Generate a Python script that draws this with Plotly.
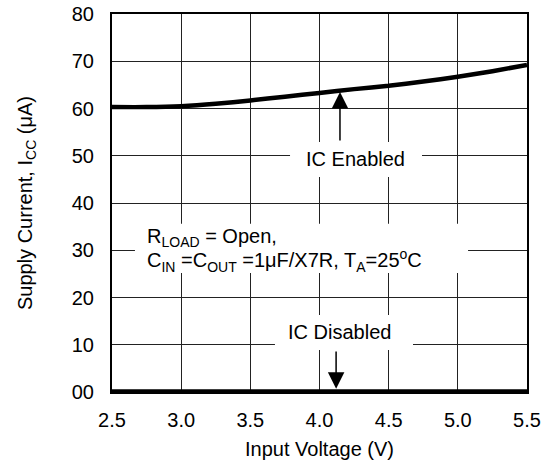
import plotly.graph_objects as go

vin = [2.5, 2.75, 3.0, 3.25, 3.5, 3.75, 4.0, 4.25, 4.5, 4.75, 5.0, 5.25, 5.5]
icc_enabled = [60.3, 60.3, 60.5, 61.0, 61.7, 62.5, 63.3, 64.1, 64.8, 65.7, 66.7, 67.9, 69.2]
icc_disabled = [0.0, 0.0, 0.0, 0.0, 0.0, 0.0, 0.0, 0.0, 0.0, 0.0, 0.0, 0.0, 0.0]

x_ticks = [2.5, 3.0, 3.5, 4.0, 4.5, 5.0, 5.5]
x_ticktext = ["2.5", "3.0", "3.5", "4.0", "4.5", "5.0", "5.5"]
y_ticks = [0, 10, 20, 30, 40, 50, 60, 70, 80]
y_ticktext = ["00", "10", "20", "30", "40", "50", "60", "70", "80"]

FONT = "Liberation Sans, Arial, sans-serif"
FS = 20

fig = go.Figure()
fig.add_trace(go.Scatter(x=vin, y=icc_enabled, mode="lines", line_shape="spline",
                         line=dict(color="black", width=4.5, smoothing=0.6), showlegend=False))
fig.add_trace(go.Scatter(x=vin, y=icc_disabled, mode="lines",
                         line=dict(color="black", width=5.5), showlegend=False, cliponaxis=False))

fig.update_layout(
    width=547, height=463,
    margin=dict(l=112, r=20, t=14, b=71),
    paper_bgcolor="white", plot_bgcolor="white",
    font=dict(family=FONT, size=FS, color="black"),
    xaxis=dict(range=[2.5, 5.5], tickvals=x_ticks, ticktext=x_ticktext, automargin=False,
               showgrid=True, gridcolor="#222222", gridwidth=1,
               showline=True, linecolor="black", linewidth=2, mirror=True,
               ticks="", ticklabelstandoff=9, zeroline=False,
               title=dict(text="Input Voltage (V)", font=dict(size=FS), standoff=12)),
    yaxis=dict(range=[0, 80], tickvals=y_ticks, ticktext=y_ticktext, automargin=False,
               showgrid=True, gridcolor="#222222", gridwidth=1,
               showline=True, linecolor="black", linewidth=2, mirror=True,
               ticks="", ticklabelstandoff=12, zeroline=False,
               title=dict(text="Supply Current, I<sub>CC</sub> (μA)", font=dict(size=FS), standoff=34)),
)

# White label boxes that interrupt the grid
for x0, x1, y0, y1 in [(3.787, 4.741, 45.5, 52.9),
                       (3.678, 4.676, 8.9, 16.3),
                       (2.666, 5.074, 25.2, 35.6)]:
    fig.add_shape(type="rect", xref="x", yref="y", x0=x0, x1=x1, y0=y0, y1=y1,
                  fillcolor="white", line=dict(width=0), layer="above")

# Arrows
fig.add_annotation(x=4.148, y=63.5, ax=4.148, ay=52.9, xref="x", yref="y", axref="x", ayref="y",
                   text="", showarrow=True, arrowhead=2, arrowsize=2.2, arrowwidth=1.5, arrowcolor="black")
fig.add_annotation(x=4.12, y=0.7, ax=4.12, ay=8.9, xref="x", yref="y", axref="x", ayref="y",
                   text="", showarrow=True, arrowhead=2, arrowsize=2.2, arrowwidth=1.5, arrowcolor="black")

# Labels
fig.add_annotation(x=4.257, y=49.4, text="IC Enabled", showarrow=False, font=dict(size=FS))
fig.add_annotation(x=4.141, y=12.6, text="IC Disabled", showarrow=False, font=dict(size=FS))
fig.add_annotation(x=2.738, y=32.6, xanchor="left",
                   text="R<sub>LOAD</sub> = Open,", showarrow=False, font=dict(size=FS))
fig.add_annotation(x=2.738, y=27.8, xanchor="left",
                   text="C<sub>IN</sub> =C<sub>OUT</sub> =1μF/X7R, T<sub>A</sub>=25<sup>o</sup>C",
                   showarrow=False, font=dict(size=FS))

fig.write_html("out.html")
